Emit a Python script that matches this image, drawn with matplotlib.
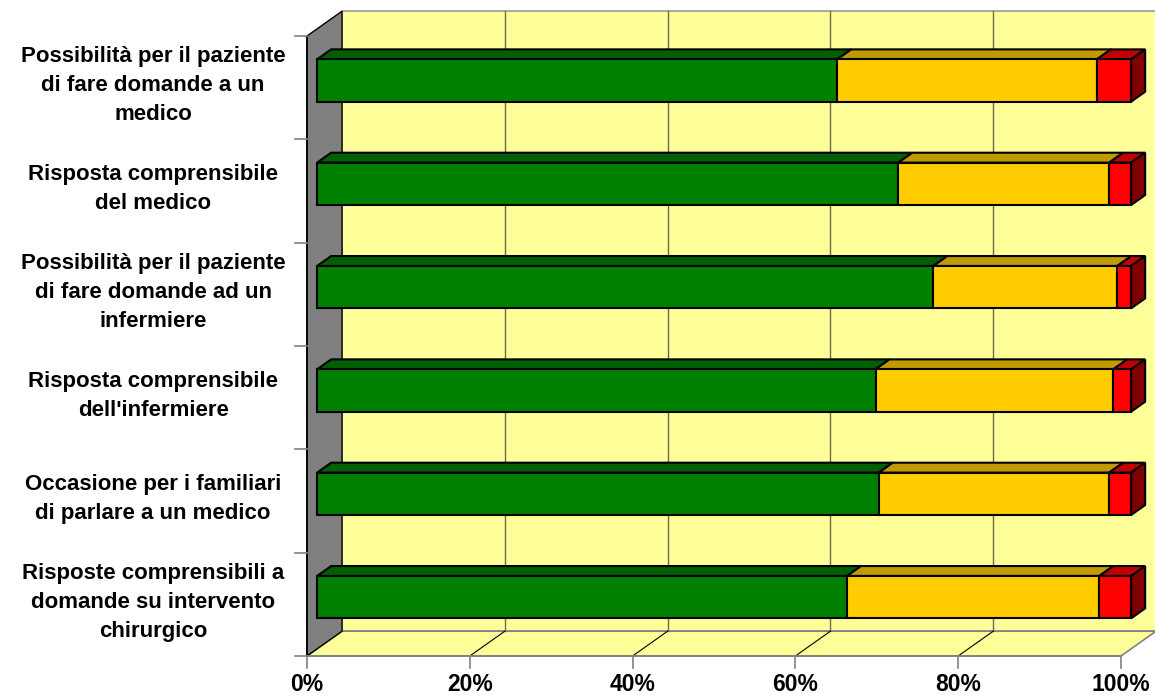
import matplotlib.pyplot as plt
from matplotlib.patches import Polygon

plt.rcParams['font.family'] = ['Liberation Sans', 'DejaVu Sans']

# categories listed top to bottom
labels = [
    "Possibilità per il paziente\ndi fare domande a un\nmedico",
    "Risposta comprensibile\ndel medico",
    "Possibilità per il paziente\ndi fare domande ad un\ninfermiere",
    "Risposta comprensibile\ndell'infermiere",
    "Occasione per i familiari\ndi parlare a un medico",
    "Risposte comprensibili a\ndomande su intervento\nchirurgico",
]
verde = [63.9, 71.4, 75.7, 68.6, 69.0, 65.1]
giallo = [31.9, 25.9, 22.6, 29.2, 28.3, 31.0]
rosso = [4.2, 2.7, 1.7, 2.2, 2.7, 3.9]
xticks = [0, 20, 40, 60, 80, 100]

# face colours: front, top, side
colori = [
    ("#008000", "#005f00", "#004000"),
    ("#ffcc00", "#c09a00", "#806600"),
    ("#ff0000", "#c00000", "#800000"),
]

DX, DY = 4.3, 0.24      # depth of the 3d box in data units
F0, F1 = 0.29, 0.69     # bar depth (fraction of box depth)
H = 0.205               # half bar height

fig = plt.figure(figsize=(11.55, 6.96), dpi=100)
ax = fig.add_axes([307 / 1155, 40 / 696, 814 / 1155, 620 / 696])
ax.set_xlim(0, 100)
ax.set_ylim(0, 6)
ax.axis("off")

n = len(labels)


def proj(x, y, d):
    return (x + d * DX, y + d * DY)


def poly(pts, fc, ec="black", lw=1.5, z=2):
    ax.add_patch(Polygon(pts, closed=True, facecolor=fc, edgecolor=ec,
                         linewidth=lw, joinstyle="miter", zorder=z, clip_on=False))


# back wall, floor, left wall
poly([proj(0, 0, 1), proj(100, 0, 1), proj(100, n, 1), proj(0, n, 1)],
     "#ffff99", ec="#999999", lw=1.2, z=0)
poly([(0, 0), (100, 0), proj(100, 0, 1), proj(0, 0, 1)], "#ffff99",
     ec="#808080", lw=1.2, z=0)
poly([(0, 0), proj(0, 0, 1), proj(0, n, 1), (0, n)], "#808080",
     ec="black", lw=1.0, z=0)

# gridlines on the wall and floor
for t in xticks[1:-1]:
    ax.plot(*zip(proj(t, 0, 1), proj(t, n, 1)), color="#6b6b4a", lw=1.0,
            zorder=1, clip_on=False)
    ax.plot(*zip((t, 0), proj(t, 0, 1)), color="black", lw=0.8,
            zorder=1, clip_on=False)

# axis lines and ticks
ax.plot([0, 0], [0, n], color="black", lw=1.2, zorder=1, clip_on=False)
ax.plot([0, 100], [0, 0], color="#808080", lw=1.2, zorder=1, clip_on=False)
for k in range(n + 1):
    ax.plot([-1.5, 0], [k, k], color="#808080", lw=1.2, clip_on=False)
for t in xticks:
    ax.plot([t, t], [0, -0.12], color="#808080", lw=1.2, clip_on=False)
    ax.text(t, -0.275, f"{t}%", ha="center", va="center", fontsize=16.5,
            fontweight="bold")

# stacked 3d bars
for i in range(n):
    yc = n - 1 - i + 0.5
    segs = [verde[i], giallo[i], rosso[i]]
    x0 = 0
    for j, w in enumerate(segs):
        x1 = x0 + w
        front, top, side = colori[j]
        poly([proj(x0, yc + H, F0), proj(x1, yc + H, F0),
              proj(x1, yc + H, F1), proj(x0, yc + H, F1)], top, z=3)
        poly([proj(x0, yc - H, F0), proj(x1, yc - H, F0),
              proj(x1, yc + H, F0), proj(x0, yc + H, F0)], front, z=4)
        if j == len(segs) - 1:
            poly([proj(x1, yc - H, F0), proj(x1, yc - H, F1),
                  proj(x1, yc + H, F1), proj(x1, yc + H, F0)], side, z=3)
        x0 = x1
    ax.text(-18.9, yc + 0.02, labels[i], ha="center", va="center",
            multialignment="center", fontsize=16, fontweight="bold",
            linespacing=1.5)

fig.savefig("out.png", dpi=100)
